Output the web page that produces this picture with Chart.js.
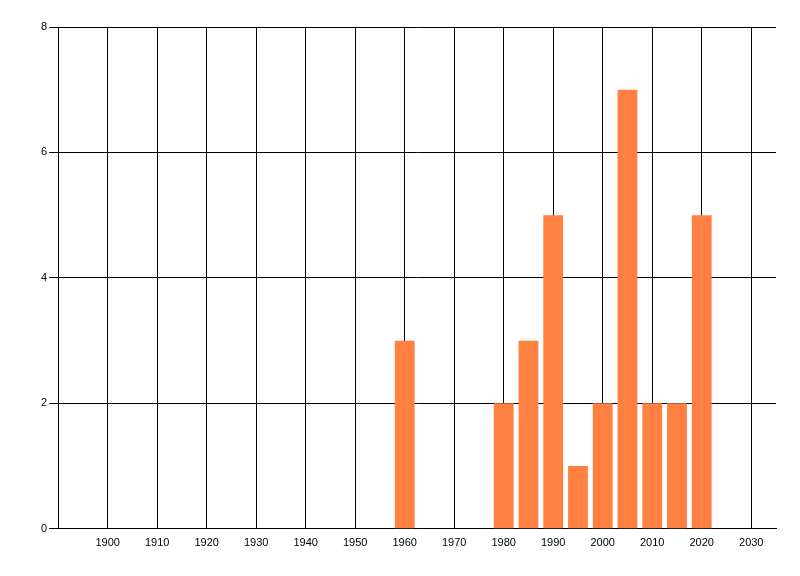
<!DOCTYPE html>
<html>
<head>
<meta charset="utf-8">
<script src="https://cdn.jsdelivr.net/npm/chart.js@4/dist/chart.umd.min.js"></script>
<style>
  html, body { margin: 0; padding: 0; background: #fff; }
  canvas { display: block; }
</style>
</head>
<body>
<canvas id="barChart" width="800" height="576"></canvas>
<script>
// years of the bars and their counts
const years = [1960, 1980, 1985, 1990, 1995, 2000, 2005, 2010, 2015, 2020];
const counts = [3, 2, 3, 5, 1, 2, 7, 2, 2, 5];
// tick labels on the x axis
const xTicks = [1900, 1910, 1920, 1930, 1940, 1950, 1960, 1970, 1980, 1990, 2000, 2010, 2020, 2030];
const yTicks = [0, 2, 4, 6, 8];

const BAR_COLOR = 'rgb(255, 128, 64)';
const FONT = { family: 'Liberation Sans, Arial, sans-serif', size: 11 };

chartIt();

function chartIt() {
  const CHART = document.getElementById("barChart");
  new Chart(CHART, {
    type: 'bar',
    data: {
      datasets: [{
        data: years.map((y, i) => ({ x: y, y: counts[i] })),
        backgroundColor: BAR_COLOR,
        borderWidth: 0,
        barPercentage: 1.0,
        categoryPercentage: 0.8
      }]
    },
    options: {
      responsive: false,
      animation: false,
      devicePixelRatio: 1,
      layout: { padding: { left: 39, right: 24, top: 27, bottom: 18 } },
      plugins: { legend: { display: false }, tooltip: { enabled: false } },
      scales: {
        x: {
          type: 'linear',
          min: 1890,
          max: 2035,
          offset: false,
          afterBuildTicks: scale => { scale.ticks = xTicks.map(v => ({ value: v })); },
          grid: { color: '#000', lineWidth: 1, drawTicks: false, offset: false },
          border: { color: '#000', width: 1 },
          ticks: { color: '#000', font: FONT, padding: 8, maxRotation: 0, autoSkip: false,
                   callback: v => String(v) }
        },
        y: {
          min: 0,
          max: 8,
          afterBuildTicks: scale => { scale.ticks = yTicks.map(v => ({ value: v })); },
          grid: { color: '#000', lineWidth: 1, drawTicks: true, tickLength: 9 },
          border: { color: '#000', width: 1 },
          ticks: { color: '#000', font: FONT, padding: 2 }
        }
      }
    }
  });
}
</script>
</body>
</html>
